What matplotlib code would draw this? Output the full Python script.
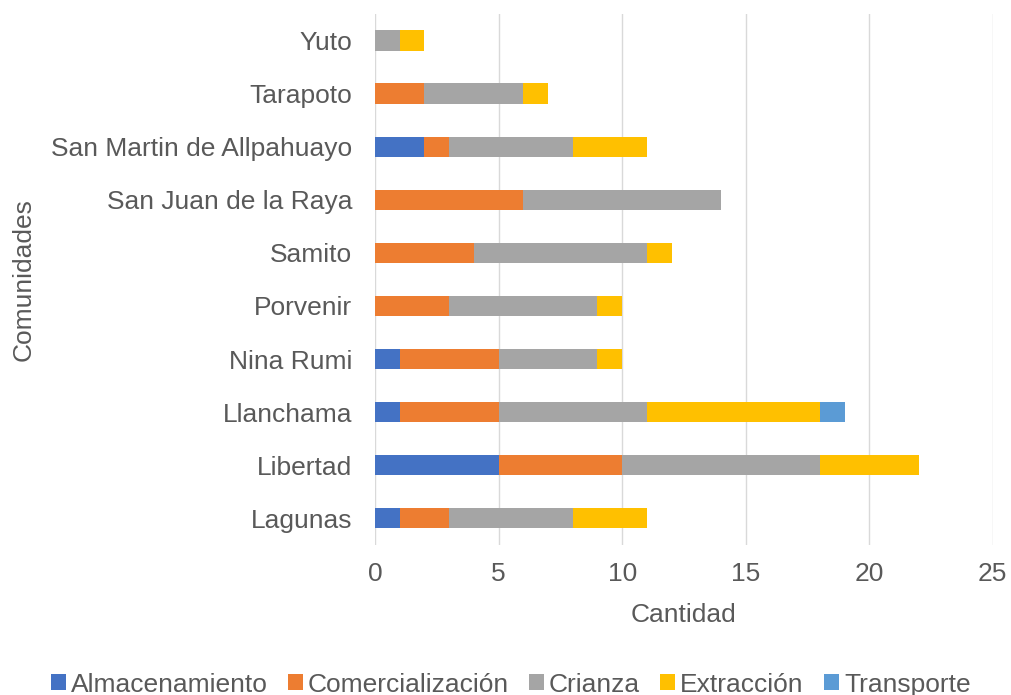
import numpy as np
import matplotlib.pyplot as plt

plt.rcParams['font.family'] = ['Liberation Sans', 'DejaVu Sans']

comunidades = ['Lagunas', 'Libertad', 'Llanchama', 'Nina Rumi', 'Porvenir',
               'Samito', 'San Juan de la Raya', 'San Martin de Allpahuayo',
               'Tarapoto', 'Yuto']
almacenamiento = [1, 5, 1, 1, 0, 0, 0, 2, 0, 0]
comercializacion = [2, 5, 4, 4, 3, 4, 6, 1, 2, 0]
crianza = [5, 8, 6, 4, 6, 7, 8, 5, 4, 1]
extraccion = [3, 4, 7, 1, 1, 1, 0, 3, 1, 1]
transporte = [0, 0, 1, 0, 0, 0, 0, 0, 0, 0]

series = [('Almacenamiento', almacenamiento, '#4472C4'),
          ('Comercialización', comercializacion, '#ED7D31'),
          ('Crianza', crianza, '#A5A5A5'),
          ('Extracción', extraccion, '#FFC000'),
          ('Transporte', transporte, '#5B9BD5')]

fs = 19

fig, ax = plt.subplots(figsize=(10.11, 6.95), dpi=100)
fig.subplots_adjust(left=0.371, right=0.982, top=0.980, bottom=0.216)

y = np.arange(len(comunidades))
left = np.zeros(len(comunidades))
for name, vals, color in series:
    ax.barh(y, vals, left=left, height=0.38, color=color, label=name, zorder=3)
    left += np.array(vals)

ax.set_xlim(0, 25)
ax.set_ylim(-0.5, len(comunidades) - 0.5)
ax.set_xticks(range(0, 26, 5))
ax.set_yticks(y)
ax.set_yticklabels(comunidades)
ax.tick_params(axis='both', length=0, labelsize=fs, colors='#595959')
ax.tick_params(axis='x', pad=12)
ax.tick_params(axis='y', pad=16.5)
ax.grid(axis='x', color='#D9D9D9', linewidth=1, zorder=0)
for s in ax.spines.values():
    s.set_visible(False)

ax.set_xlabel('Cantidad', fontsize=fs, color='#595959')
ax.set_ylabel('Comunidades', fontsize=fs, color='#595959')
ax.xaxis.set_label_coords(0.5, -0.11)
ax.yaxis.set_label_coords(-0.55, 0.5)

fig.legend(loc='center', ncol=5, frameon=False, fontsize=fs,
           labelcolor='#595959', handlelength=0.57, handleheight=0.57,
           handletextpad=0.2, columnspacing=0.75,
           bbox_to_anchor=(0.505, 0.015))

fig.savefig('out.png', dpi=100)
